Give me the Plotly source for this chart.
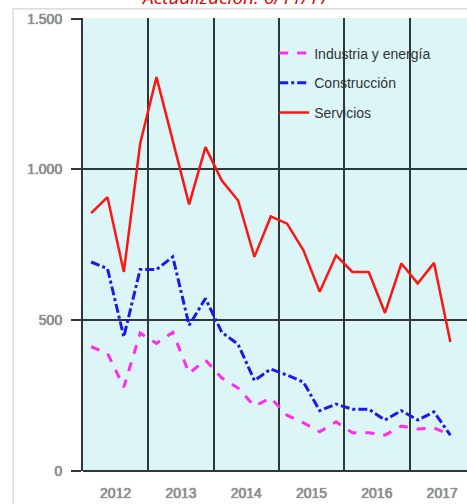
import plotly.graph_objects as go

# Trimestres 2012T1 .. 2017T3
anios = [2012] * 4 + [2013] * 4 + [2014] * 4 + [2015] * 4 + [2016] * 4 + [2017] * 3
trimestres = [1, 2, 3, 4] * 5 + [1, 2, 3]

industria = [412, 390, 278, 457, 423, 460, 324, 368, 308, 275, 215, 242,
             185, 160, 130, 163, 127, 127, 119, 149, 139, 143, 119]
construccion = [693, 671, 445, 668, 668, 710, 483, 572, 460, 420, 300, 338,
                318, 295, 200, 222, 205, 205, 169, 200, 169, 196, 119]
servicios = [855, 908, 660, 1085, 1306, 1095, 884, 1074, 963, 897, 710, 844,
             820, 732, 594, 715, 660, 660, 524, 688, 622, 690, 428]

year_labels = ["2012", "2013", "2014", "2015", "2016", "2017"]
y_ticks = [0, 500, 1000, 1500]

# quarter centred inside its year
x = [a + (t - 0.5) / 4 for a, t in zip(anios, trimestres)]

grid = "#2e3838"
label_font = dict(family="Liberation Sans", size=14, color="#909090",
                  shadow="0px 0px 1px #444")

fig = go.Figure()
fig.add_trace(go.Scatter(x=x, y=industria, name="Industria y energía", mode="lines",
                         legendgroup="a",
                         line=dict(color="#ff2bf0", width=3, dash="dash")))
fig.add_trace(go.Scatter(x=x, y=construccion, name="Construcción", mode="lines",
                         legendgroup="b",
                         line=dict(color="#1a1aee", width=3, dash="dashdot")))
fig.add_trace(go.Scatter(x=x, y=servicios, name="Servicios", mode="lines",
                         legendgroup="c",
                         line=dict(color="#ff1414", width=2.5)))

fig.update_xaxes(
    range=[2012, 2017.88],
    tickvals=[int(y) + 0.5 for y in year_labels],
    ticktext=year_labels,
    ticks="",
    showgrid=False,
    zeroline=False,
    tickfont=label_font,
    ticklabelstandoff=12,
    minor=dict(tickvals=[2012, 2013, 2014, 2015, 2016, 2017], showgrid=True,
               gridcolor=grid, gridwidth=1.5, ticks=""),
)
fig.update_yaxes(
    range=[0, 1502],
    tickvals=y_ticks,
    tickformat=",d",
    showgrid=True,
    gridcolor=grid,
    gridwidth=1.5,
    zeroline=True,
    zerolinecolor=grid,
    zerolinewidth=2,
    showline=True,
    linecolor=grid,
    linewidth=2,
    ticks="outside",
    ticklen=10,
    tickwidth=2,
    tickcolor=grid,
    tickfont=label_font,
    ticklabelstandoff=6,
)

fig.add_shape(type="rect", xref="paper", yref="paper",
              x0=-0.182, x1=1.05, y0=-0.2, y1=1.02,
              line=dict(color="#d4d4d4", width=1.2), layer="below")

fig.add_annotation(text="<i>Actualización: 6/11/17</i>", xref="paper", yref="paper",
                   x=0.397, y=1, xanchor="center", yanchor="bottom", yshift=6,
                   showarrow=False,
                   font=dict(family="Open Sans", size=19, color="#e00000"))

fig.update_layout(
    width=467,
    height=504,
    margin=dict(l=83, r=0, t=18, b=33),
    plot_bgcolor="#dcf6f8",
    paper_bgcolor="white",
    separators=",.",
    showlegend=True,
    legend=dict(x=0.498, y=0.957, xanchor="left", yanchor="top",
                bgcolor="rgba(0,0,0,0)", tracegroupgap=8.5,
                font=dict(family="Liberation Sans", size=14, color="#333333")),
)

# page without the default body margin, so the chart fills the window
fig.write_html("out.html", config={"displayModeBar": False},
               post_script="document.body.style.margin = '0';")
